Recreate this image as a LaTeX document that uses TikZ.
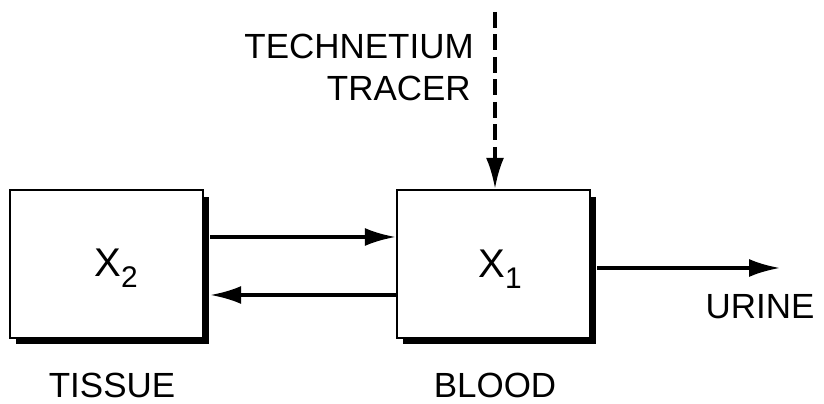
\documentclass[tikz,border=0pt]{standalone}
\usepackage{fontspec}
\setmainfont{Liberation Sans}
\usetikzlibrary{arrows.meta,shadows}

\newcommand{\compvar}[2]{#1\raisebox{-0.22cm}{\fontsize{17pt}{20pt}\selectfont #2}}

\begin{document}
\begin{tikzpicture}[x=0.02cm, y=-0.02cm,
    compbox/.style={draw, line width=1.4pt, fill=white,
      minimum width=3.86cm, minimum height=2.96cm, inner sep=0pt,
      drop shadow={shadow xshift=0.12cm, shadow yshift=-0.13cm, fill=black, opacity=1}},
    lbl/.style={inner sep=0pt, font=\fontsize{19.9pt}{24pt}\selectfont},
    flow/.style={line width=2pt, -{Latex[length=0.62cm, width=0.36cm]}}]
  \useasboundingbox (0,0) rectangle (824,404);
  % the two compartments
  \node[compbox] (tissue) at (106.5,264) {};
  \node[compbox] (blood) at (493.5,264) {};
  \node (x2) at (116,268) {\fontsize{22.8pt}{26pt}\selectfont\compvar{X}{2}};
  \node (x1) at (500,269) {\fontsize{22.8pt}{26pt}\selectfont\compvar{X}{1}};
  % labels
  \node[lbl] (tissuelbl) at (112,385) {TISSUE};
  \node[lbl] (bloodlbl) at (495,385) {BLOOD};
  \node[lbl] (urinelbl) at (760,307) {URINE};
  \node[lbl, anchor=east] (tech) at (474,46) {TECHNETIUM};
  \node[lbl, anchor=east] (tracer) at (471,88) {TRACER};
  \coordinate (src) at (495,12);
  \coordinate (out) at (780,268);
  % exchange between compartments
  \draw[flow] ([shift={(6,-27)}]tissue.east) -- ([shift={(0,-27)}]blood.west);
  \draw[flow] ([shift={(0,31)}]blood.west) -- ([shift={(6,31)}]tissue.east);
  % excretion and tracer input
  \draw[flow] ([shift={(6,4)}]blood.east) -- (out);
  \draw[flow, dash pattern=on 0.32cm off 0.13cm] (src) -- (src |- blood.north);
\end{tikzpicture}
\end{document}
